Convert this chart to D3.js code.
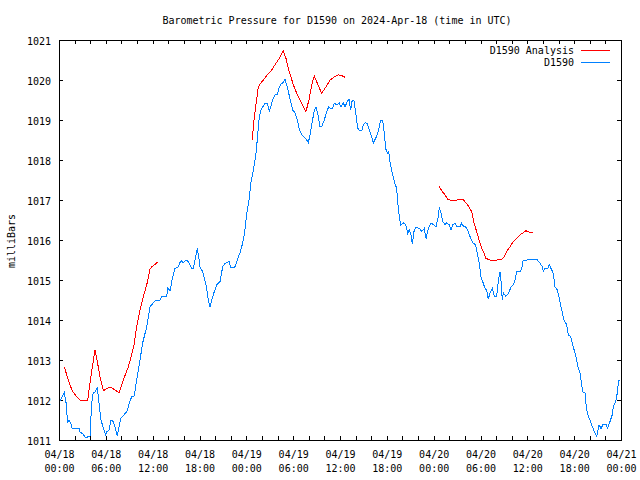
<!DOCTYPE html>
<html><head><meta charset="utf-8">
<script src="https://cdn.jsdelivr.net/npm/d3@7"></script>
<style>
html,body{margin:0;padding:0;background:#fff;}
svg{display:block;font-family:"DejaVu Sans Mono",monospace;font-size:10px;}
</style></head><body>
<svg id="chart" width="640" height="480"></svg>
<script>
// ---------- DATA (hours after 2024-04-18 00:00 UTC, millibars) ----------
const startTime = Date.UTC(2024, 3, 18, 0, 0);
const titleText = "Barometric Pressure for D1590 on 2024-Apr-18 (time in UTC)";
const yAxisTitle = "milliBars";
const seriesNames = ["D1590 Analysis", "D1590"];
const seriesColors = ["#ff0000", "#0080ff"];
const yTickValues = [1011,1012,1013,1014,1015,1016,1017,1018,1019,1020,1021];
const xLabelHours = [0,6,12,18,24,30,36,42,48,54,60,66,72];
const xMinorHours = d3.range(0, 73, 2);

// analysis series (null = gap)
const analysisReadings = [
 [0.68,1012.82],[0.99,1012.63],[1.32,1012.42],[1.70,1012.23],[2.27,1012.08],[2.78,1011.98],[3.11,1011.98],
 [3.68,1012.00],[3.97,1012.42],[4.32,1012.88],[4.61,1013.25],[4.91,1012.96],[5.25,1012.58],[5.68,1012.23],
 [6.11,1012.29],[6.66,1012.32],[7.17,1012.25],[7.69,1012.18],[8.24,1012.50],[8.88,1012.83],[9.31,1013.13],
 [9.61,1013.38],[9.95,1013.83],[10.38,1014.25],[10.80,1014.58],[11.24,1014.88],[11.66,1015.27],[11.88,1015.33],
 [12.30,1015.39],[12.72,1015.46],
 [18.0,null],
 [24.76,1018.50],[24.98,1019.00],[25.20,1019.33],[25.53,1019.83],[25.84,1019.92],[26.17,1020.00],[26.69,1020.13],
 [27.25,1020.25],[27.67,1020.38],[28.22,1020.54],[28.74,1020.73],[29.08,1020.54],[29.50,1020.21],[30.02,1019.88],
 [30.45,1019.67],[31.00,1019.46],[31.64,1019.21],[32.07,1019.54],[32.37,1019.88],[32.71,1020.10],[33.09,1019.92],
 [33.65,1019.67],[34.21,1019.83],[34.72,1020.00],[35.23,1020.07],[35.78,1020.13],[36.22,1020.11],[36.64,1020.07],
 [42.0,null],
 [48.68,1017.35],[49.03,1017.23],[49.45,1017.13],[49.80,1017.02],[50.31,1016.98],[50.95,1017.00],[51.37,1017.02],
 [51.72,1017.02],[52.14,1016.93],[52.44,1016.85],[52.87,1016.71],[53.17,1016.42],[53.51,1016.21],[53.81,1016.00],
 [54.15,1015.79],[54.45,1015.67],[54.70,1015.54],[55.22,1015.50],[56.07,1015.50],[56.71,1015.52],[57.01,1015.58],
 [57.35,1015.71],[57.78,1015.83],[58.20,1015.96],[58.64,1016.04],[59.06,1016.13],[59.48,1016.18],[59.82,1016.23],
 [60.25,1016.20],[60.76,1016.19]
];

// station observations
const stationReadings = [
 [0.13,1011.98],[0.68,1012.19],[0.99,1011.83],[1.06,1011.43],[1.28,1011.50],[1.54,1011.40],[1.67,1011.30],
 [2.56,1011.30],[2.69,1011.20],[3.07,1011.15],[3.42,1011.06],[3.72,1011.08],[3.97,1011.08],[4.19,1011.93],
 [4.39,1012.20],[4.61,1012.20],[4.91,1012.30],[5.12,1011.93],[5.38,1011.50],[5.68,1011.30],[5.98,1011.13],
 [6.11,1011.20],[6.41,1011.25],[6.66,1011.50],[6.96,1011.46],[7.17,1011.33],[7.47,1011.10],[7.69,1011.33],
 [7.94,1011.55],[8.32,1011.63],[8.75,1011.73],[9.01,1011.93],[9.31,1012.08],[9.65,1012.10],[9.95,1012.50],
 [10.38,1013.00],[10.72,1013.43],[11.24,1013.83],[11.66,1014.33],[11.88,1014.38],[12.30,1014.48],[12.94,1014.50],
 [13.16,1014.58],[13.80,1014.60],[13.93,1014.80],[14.22,1014.73],[14.57,1015.08],[14.86,1015.29],[15.21,1015.31],
 [15.50,1015.44],[15.72,1015.48],[15.92,1015.43],[16.27,1015.50],[16.56,1015.46],[17.00,1015.29],[17.21,1015.29],
 [17.51,1015.58],[17.72,1015.79],[17.90,1015.58],[18.06,1015.33],[18.41,1015.21],[18.83,1014.88],[19.13,1014.50],
 [19.34,1014.32],[19.56,1014.50],[19.90,1014.71],[20.20,1014.88],[20.63,1014.96],[20.97,1015.33],[21.27,1015.42],
 [21.56,1015.43],[21.78,1015.48],[22.00,1015.31],[22.33,1015.31],[22.55,1015.33],[22.84,1015.50],[23.19,1015.68],
 [23.53,1015.92],[23.74,1016.13],[23.96,1016.50],[24.12,1016.75],[24.38,1017.04],[24.56,1017.42],[24.82,1017.67],
 [25.02,1017.88],[25.24,1018.17],[25.40,1018.50],[25.66,1019.08],[25.88,1019.25],[26.17,1019.35],[26.39,1019.42],
 [26.69,1019.42],[26.94,1019.23],[27.12,1019.33],[27.38,1019.50],[27.67,1019.63],[27.97,1019.64],[28.22,1019.83],
 [28.53,1019.92],[28.74,1019.93],[28.95,1020.02],[29.17,1019.88],[29.43,1019.67],[29.68,1019.46],[29.94,1019.25],
 [30.23,1019.18],[30.53,1019.00],[30.75,1018.79],[31.09,1018.64],[31.39,1018.58],[31.73,1018.50],[31.94,1018.43],
 [32.16,1018.63],[32.45,1018.96],[32.71,1019.25],[32.92,1019.32],[33.14,1019.17],[33.44,1018.83],[33.65,1018.83],
 [33.99,1019.00],[34.30,1019.21],[34.55,1019.33],[34.81,1019.29],[35.06,1019.29],[35.27,1019.42],[35.58,1019.38],
 [35.91,1019.42],[36.13,1019.33],[36.42,1019.43],[36.64,1019.33],[36.93,1019.46],[37.15,1019.52],[37.37,1019.25],
 [37.57,1019.50],[37.79,1019.48],[38.05,1019.13],[38.27,1018.79],[38.56,1018.73],[38.78,1018.73],[38.98,1018.88],
 [39.20,1018.93],[39.50,1018.92],[39.75,1018.75],[40.06,1018.58],[40.27,1018.43],[40.57,1018.54],[40.91,1018.71],
 [41.21,1019.00],[41.47,1019.00],[41.67,1018.67],[41.85,1018.29],[42.06,1018.17],[42.24,1018.21],[42.40,1017.96],
 [42.70,1017.67],[42.96,1017.46],[43.26,1017.29],[43.39,1016.96],[43.60,1016.58],[43.78,1016.38],[44.11,1016.43],
 [44.42,1016.38],[44.67,1016.17],[44.88,1016.25],[45.09,1016.13],[45.26,1015.90],[45.48,1016.21],[45.74,1016.32],
 [46.16,1016.29],[46.47,1016.21],[46.80,1016.29],[47.02,1016.04],[47.31,1016.29],[47.62,1016.42],[47.95,1016.39],
 [48.30,1016.33],[48.59,1016.58],[48.72,1016.82],[48.94,1016.67],[49.16,1016.46],[49.45,1016.39],[49.67,1016.43],
 [50.00,1016.38],[50.22,1016.25],[50.44,1016.38],[50.73,1016.42],[50.95,1016.33],[51.37,1016.33],[51.59,1016.42],
 [51.80,1016.35],[52.14,1016.32],[52.44,1016.21],[52.74,1016.04],[53.08,1015.92],[53.38,1015.88],[53.59,1015.67],
 [53.84,1015.42],[54.06,1015.08],[54.28,1014.96],[54.58,1014.79],[54.79,1014.75],[55.00,1014.52],[55.22,1014.68],
 [55.51,1014.79],[55.77,1014.60],[56.07,1014.60],[56.28,1014.96],[56.50,1015.21],[56.62,1015.00],[56.79,1014.50],
 [56.92,1014.68],[57.23,1014.60],[57.56,1014.65],[57.91,1014.83],[58.20,1014.88],[58.42,1015.00],[58.64,1015.21],
 [59.06,1015.21],[59.28,1015.29],[59.48,1015.50],[59.92,1015.50],[60.12,1015.52],[61.20,1015.52],[61.62,1015.42],
 [61.92,1015.33],[62.04,1015.21],[62.26,1015.29],[62.61,1015.29],[62.81,1015.38],[63.03,1015.29],[63.32,1015.17],
 [63.54,1014.83],[63.84,1014.75],[64.09,1014.54],[64.40,1014.25],[64.70,1014.00],[65.04,1013.88],[65.25,1013.63],
 [65.55,1013.58],[65.89,1013.33],[66.23,1013.08],[66.53,1012.79],[66.75,1012.67],[66.87,1012.50],[67.09,1012.21],
 [67.39,1012.17],[67.51,1011.92],[67.68,1011.67],[67.94,1011.54],[68.24,1011.38],[68.54,1011.23],[68.89,1011.10],
 [69.18,1011.38],[69.44,1011.29],[69.73,1011.40],[70.08,1011.40],[70.29,1011.29],[70.59,1011.46],[70.88,1011.63],
 [71.01,1011.83],[71.32,1011.96],[71.52,1012.17],[71.70,1012.50],[71.87,1012.50]
];

// ---------- CHART ----------
const hourToDate = h => new Date(startTime + h * 3600e3);
const svg = d3.select("#chart");
const x = d3.scaleUtc().domain([hourToDate(0), hourToDate(72)]).range([59, 621]);
const y = d3.scaleLinear().domain([1011, 1021]).range([440, 40]);

svg.append("rect").attr("width", 640).attr("height", 480).attr("fill", "#fff");

// title
svg.append("text").attr("x", 337).attr("y", 24).attr("text-anchor", "middle")
  .attr("fill", "#000").text(titleText);

// y axis title
svg.append("text").attr("transform", "translate(14.5,241) rotate(-90)")
  .attr("text-anchor", "middle").attr("fill", "#000").text(yAxisTitle);

function styleAxis(g) {
  g.select(".domain").remove();
  g.attr("font-family", "DejaVu Sans Mono, monospace").attr("font-size", 10);
  g.selectAll(".tick line").attr("stroke", "#000").attr("shape-rendering", "crispEdges");
  g.selectAll(".tick text").attr("fill", "#000");
}

// minor + major ticks (bottom & top)
svg.append("g").attr("transform", "translate(0,440)")
  .call(d3.axisBottom(x).tickValues(xMinorHours.map(hourToDate)).tickSize(-4).tickFormat(""))
  .call(styleAxis);
svg.append("g").attr("transform", "translate(0,40)")
  .call(d3.axisTop(x).tickValues(xMinorHours.map(hourToDate)).tickSize(-4).tickFormat(""))
  .call(styleAxis);

// x labels (two lines)
const fmtDay = d3.utcFormat("%m/%d"), fmtTime = d3.utcFormat("%H:%M");
const xLab = svg.append("g").attr("transform", "translate(0,440)")
  .call(d3.axisBottom(x).tickValues(xLabelHours.map(hourToDate)).tickSize(0).tickFormat(""))
  .call(styleAxis);
xLab.selectAll(".tick line").remove();
xLab.selectAll(".tick text").each(function(d) {
  const t = d3.select(this).attr("dy", null).attr("y", null);
  t.append("tspan").attr("x", 0).attr("y", 18).text(fmtDay(d));
  t.append("tspan").attr("x", 0).attr("y", 32).text(fmtTime(d));
});

// y axis left & right
svg.append("g").attr("transform", "translate(59,0)")
  .call(d3.axisLeft(y).tickValues(yTickValues).tickSize(-4).tickPadding(8).tickFormat(d3.format("d")))
  .call(styleAxis)
  .call(g => g.selectAll(".tick text").attr("dy", "0.45em"));
svg.append("g").attr("transform", "translate(621,0)")
  .call(d3.axisRight(y).tickValues(yTickValues).tickSize(-4).tickFormat(""))
  .call(styleAxis);

// frame
svg.append("rect").attr("x", 59.5).attr("y", 40.5).attr("width", 562).attr("height", 400)
  .attr("fill", "none").attr("stroke", "#000").attr("shape-rendering", "crispEdges");

// clip
svg.append("clipPath").attr("id", "plotclip").append("rect")
  .attr("x", 59).attr("y", 40).attr("width", 563).attr("height", 401);

const line = d3.line()
  .defined(d => d[1] != null)
  .x(d => x(hourToDate(d[0])))
  .y(d => y(d[1]));

const plot = svg.append("g").attr("clip-path", "url(#plotclip)");
plot.append("path").datum(analysisReadings).attr("d", line)
  .attr("fill", "none").attr("stroke", seriesColors[0]).attr("stroke-width", 1)
  .attr("shape-rendering", "crispEdges");
plot.append("path").datum(stationReadings).attr("d", line)
  .attr("fill", "none").attr("stroke", seriesColors[1]).attr("stroke-width", 1)
  .attr("shape-rendering", "crispEdges");

// legend
const legend = svg.append("g");
seriesNames.forEach((name, i) => {
  const yy = 50 + i * 12;
  legend.append("text").attr("x", 574).attr("y", yy + 4).attr("text-anchor", "end")
    .attr("fill", "#000").text(name);
  legend.append("line").attr("x1", 581).attr("x2", 610).attr("y1", yy + 0.5).attr("y2", yy + 0.5)
    .attr("stroke", seriesColors[i]).attr("stroke-width", 1).attr("shape-rendering", "crispEdges");
});
</script>
</body></html>
